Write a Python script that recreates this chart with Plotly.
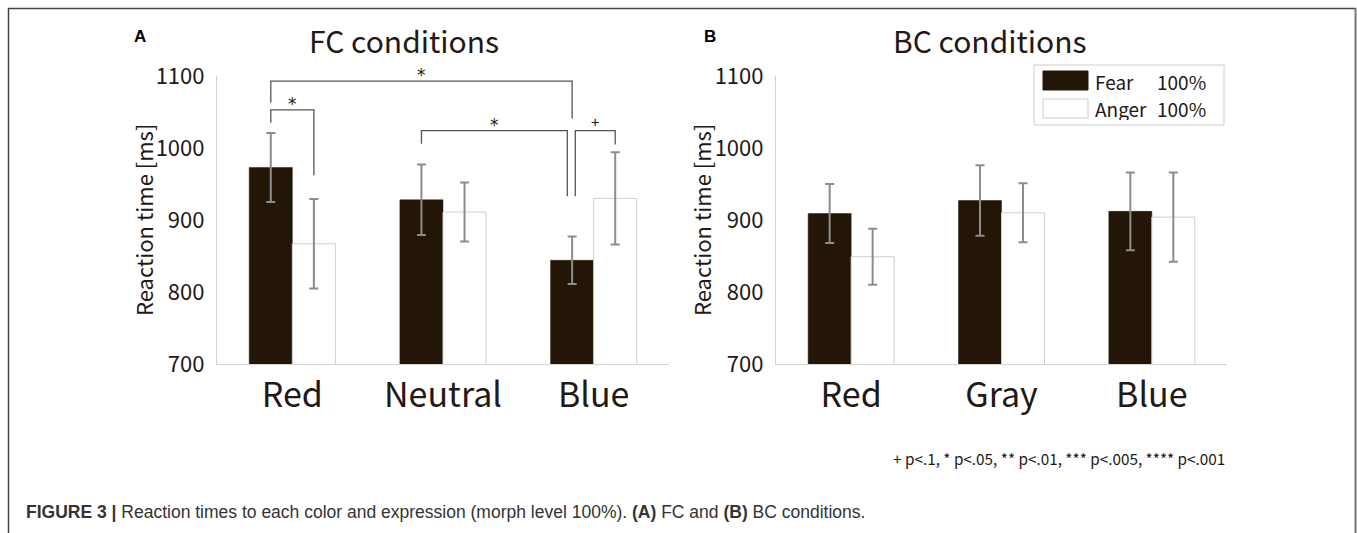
import plotly.graph_objects as go

W, H = 1357, 533

# ---------------- data ----------------
series_names = ["Fear", "Anger"]
morph_level = "100%"

fc_categories = ["Red", "Neutral", "Blue"]
fc_fear = [973, 928, 844]
fc_fear_err = [48, 49, 33]
fc_anger = [867, 911, 930]
fc_anger_err = [62, 41, 64]

bc_categories = ["Red", "Gray", "Blue"]
bc_fear = [909, 927, 912]
bc_fear_err = [41, 49, 54]
bc_anger = [849, 910, 904]
bc_anger_err = [39, 41, 62]

y_ticks = [700, 800, 900, 1000, 1100]

# significance brackets (FC panel): x_left, x_right, y_top, y_left_end, y_right_end, label
fc_brackets = [
    (-0.143, 0.143, 1053, 1035, 962, "*"),
    (-0.143, 1.857, 1093, 1063, 1041, "*"),
    (0.857, 1.825, 1024, 1006, 933, "*"),
    (1.878, 2.143, 1024, 933, 1005, "+"),
]

panel_titles = ["FC conditions", "BC conditions"]
panel_letters = ["A", "B"]
y_title = "Reaction time [ms]"
footnote = "+ p<.1, * p<.05, ** p<.01, *** p<.005, **** p<.001"
caption = ("<b>FIGURE 3 |</b> Reaction times to each color and expression "
           "(morph level 100%). <b>(A)</b> FC and <b>(B)</b> BC conditions.")

# ---------------- style ----------------
FONT = "Noto Sans CJK JP"
TXT = "#231815"
FEAR_C = "#231606"
ERR_C = "#8c8c8c"
AX_C = "#d2d2d2"


def px(x):
    return x / W


def py(y):
    return 1 - y / H


fig = go.Figure()

panels = [
    ("x", "y", fc_categories, fc_fear, fc_fear_err, fc_anger, fc_anger_err),
    ("x2", "y2", bc_categories, bc_fear, bc_fear_err, bc_anger, bc_anger_err),
]

for xa, ya, cats, fear, fear_e, anger, anger_e in panels:
    pos = list(range(len(cats)))
    fig.add_trace(go.Bar(
        x=pos, y=fear, name=series_names[0], xaxis=xa, yaxis=ya,
        marker=dict(color=FEAR_C, line=dict(color=FEAR_C, width=0.5)),
        error_y=dict(type="data", array=fear_e, color=ERR_C, thickness=2, width=4.5),
        offsetgroup="f",
    ))
    fig.add_trace(go.Bar(
        x=pos, y=anger, name=series_names[1], xaxis=xa, yaxis=ya,
        marker=dict(color="white", line=dict(color="#cfcfcf", width=1)),
        error_y=dict(type="data", array=anger_e, color=ERR_C, thickness=2, width=4.5),
        offsetgroup="a",
    ))

# brackets
for x1, x2, yt, y1, y2, lab in fc_brackets:
    fig.add_trace(go.Scatter(
        x=[x1, x1, x2, x2], y=[y1, yt, yt, y2], mode="lines",
        line=dict(color="#555555", width=1.3), xaxis="x", yaxis="y",
        cliponaxis=False, hoverinfo="skip", showlegend=False,
    ))
    star = lab == "*"
    fig.add_annotation(
        x=(x1 + x2) / 2, y=yt, xref="x", yref="y", text=lab, showarrow=False,
        yanchor="middle", yshift=6 if star else 10, height=14,
        font=dict(family="DejaVu Sans" if star else FONT, size=17 if star else 15, color=TXT),
    )

xa_dom = [px(217), px(669)]
xb_dom = [px(776), px(1227)]
y_dom = [py(364), py(76)]

common_x = dict(range=[-0.5, 2.5], showline=True, linecolor=AX_C, linewidth=1.2,
                showgrid=False, zeroline=False, ticks="outside", ticklen=1,
                tickcolor="rgba(0,0,0,0)", tickvals=[0, 1, 2],
                tickfont=dict(family=FONT, size=34, color=TXT), fixedrange=True)
common_y = dict(range=[700, 1100], showline=True, linecolor=AX_C, linewidth=1.2,
                showgrid=False, zeroline=False, ticks="outside", ticklen=7,
                tickcolor="rgba(0,0,0,0)", tickvals=y_ticks,
                tickfont=dict(family=FONT, size=22, color=TXT), domain=y_dom)

fig.update_layout(
    width=W, height=H, margin=dict(l=0, r=0, t=0, b=0, pad=0, autoexpand=False),
    paper_bgcolor="white", plot_bgcolor="white",
    showlegend=False, barmode="group", bargap=0.428, bargroupgap=0,
    xaxis=dict(common_x, domain=xa_dom, ticktext=fc_categories, anchor="y"),
    yaxis=dict(common_y, anchor="x"),
    xaxis2=dict(common_x, domain=xb_dom, ticktext=bc_categories, anchor="y2"),
    yaxis2=dict(common_y, anchor="x2"),
    font=dict(family=FONT, color=TXT),
)

# titles, panel letters, y titles
for title, cx in zip(panel_titles, [404, 990]):
    fig.add_annotation(x=px(cx), y=py(40), xref="paper", yref="paper", text=title,
                       showarrow=False, xanchor="center", yanchor="middle", height=34,
                       font=dict(family=FONT, size=30, color=TXT))
for letter, cx in zip(panel_letters, [140, 710]):
    fig.add_annotation(x=px(cx), y=py(36), xref="paper", yref="paper", text="<b>%s</b>" % letter,
                       showarrow=False, xanchor="center", yanchor="middle",
                       font=dict(family="Liberation Sans", size=17, color="#000000"))
for cx in [143, 701]:
    fig.add_annotation(x=px(cx), y=py(220), xref="paper", yref="paper", text=y_title,
                       textangle=-90, showarrow=False, xanchor="center", yanchor="middle",
                       font=dict(family=FONT, size=22, color=TXT))

# custom legend (panel B)
fig.add_shape(type="rect", xref="paper", yref="paper", x0=px(1034), x1=px(1224),
              y0=py(125), y1=py(65), line=dict(color="#cccccc", width=1), fillcolor="white")
leg_rows = [(80.5, FEAR_C, FEAR_C), (108.5, "white", "#cccccc")]
for name, (cy, fill, lc) in zip(series_names, leg_rows):
    fig.add_shape(type="rect", xref="paper", yref="paper", x0=px(1043), x1=px(1088),
                  y0=py(cy + 9.5), y1=py(cy - 9.5), line=dict(color=lc, width=1), fillcolor=fill)
    fig.add_annotation(x=px(1093), y=py(cy), xref="paper", yref="paper", text=name,
                       showarrow=False, xanchor="left", yanchor="middle", height=24,
                       font=dict(family=FONT, size=19, color=TXT))
    fig.add_annotation(x=px(1155), y=py(cy), xref="paper", yref="paper", text=morph_level,
                       showarrow=False, xanchor="left", yanchor="middle", height=24,
                       font=dict(family=FONT, size=19, color=TXT))

# footnote and caption
fig.add_annotation(x=px(1227), y=py(458), xref="paper", yref="paper", text=footnote,
                   showarrow=False, xanchor="right", yanchor="middle",
                   font=dict(family=FONT, size=15.3, color=TXT))
fig.add_annotation(x=px(24), y=py(512), xref="paper", yref="paper", text=caption,
                   showarrow=False, xanchor="left", yanchor="middle",
                   font=dict(family="Liberation Sans", size=17.5, color="#333333"))

# figure frame
fig.add_shape(type="line", xref="paper", yref="paper", x0=px(8), x1=px(1356), y0=py(8.5), y1=py(8.5),
              line=dict(color="#444444", width=1.5))
fig.add_shape(type="line", xref="paper", yref="paper", x0=px(8.5), x1=px(8.5), y0=py(8), y1=py(533),
              line=dict(color="#444444", width=1.5))
fig.add_shape(type="line", xref="paper", yref="paper", x0=px(1355.5), x1=px(1355.5), y0=py(8), y1=py(533),
              line=dict(color="#777777", width=2))

post = (
    "var d=document.querySelector('.plotly-graph-div');"
    "var de=document.documentElement, b=document.body;"
    "[de,b].forEach(function(e){e.style.margin='0';e.style.padding='0';"
    "e.style.overflow='hidden';});"
    "d.style.position='fixed';d.style.left='0px';d.style.top='0px';d.style.margin='0';"
)

fig.write_html("out.html", config={"displayModeBar": False}, post_script=post)
